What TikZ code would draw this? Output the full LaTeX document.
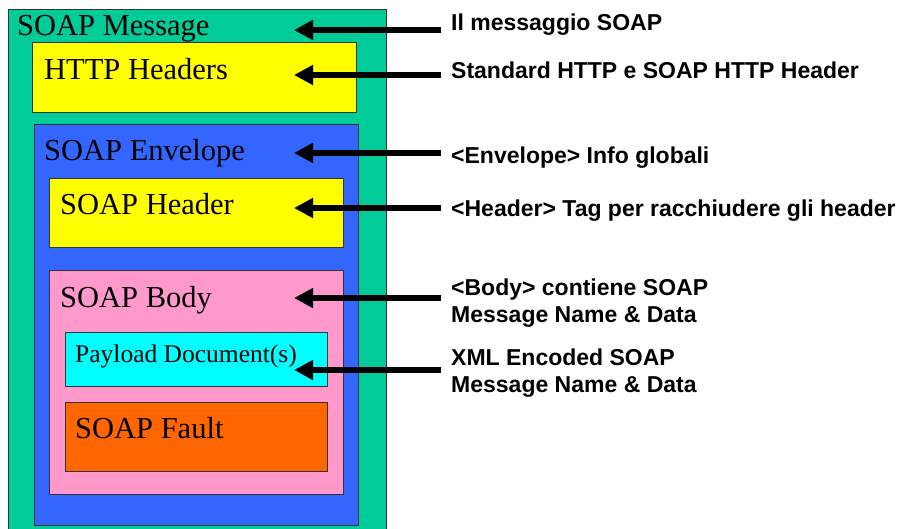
\documentclass[tikz,border=0pt]{standalone}
\usepackage{fontspec}
\setmainfont{Liberation Serif}
\newfontfamily\labfont{Liberation Sans}
\usetikzlibrary{arrows.meta}
\definecolor{msggreen}{HTML}{00CC99}
\definecolor{hdryellow}{HTML}{FFFF00}
\definecolor{envblue}{HTML}{3366FF}
\definecolor{bodypink}{HTML}{FF99CC}
\definecolor{paycyan}{HTML}{00FFFF}
\definecolor{faultorange}{HTML}{FF6600}
\definecolor{edgegrey}{HTML}{333333}
\tikzset{
  layer/.style={draw=edgegrey, line width=0.8pt, inner sep=0pt, anchor=north west},
  boxtext/.style={anchor=base west, inner sep=0pt, font=\fontsize{30.5}{34}\selectfont},
  smalltext/.style={anchor=base west, inner sep=0pt, font=\fontsize{25.5}{30}\selectfont},
  labtext/.style={anchor=base west, inner sep=0pt, align=left, font=\labfont\bfseries\fontsize{23}{27}\selectfont},
  pointer/.style={line width=6pt, -{Triangle[length=19pt,width=19pt]}}
}
\begin{document}
\begin{tikzpicture}[x=1pt,y=-1pt]
\useasboundingbox (0,0) rectangle (901,528);
\begin{scope}
\clip (0,0) rectangle (901,528);
% boxes
\node[layer, fill=msggreen, minimum width=378pt, minimum height=540pt] (msg) at (8,9) {};
\node[layer, fill=hdryellow, minimum width=324pt, minimum height=70pt] (http) at (32,42) {};
\node[layer, fill=envblue, minimum width=324pt, minimum height=401pt] (env) at (34,124) {};
\node[layer, fill=hdryellow, minimum width=294pt, minimum height=69pt] (shdr) at (49,178) {};
\node[layer, fill=bodypink, minimum width=294pt, minimum height=224pt] (body) at (49,270) {};
\node[layer, fill=paycyan, minimum width=262pt, minimum height=54pt] (pay) at (65,332) {};
\node[layer, fill=faultorange, minimum width=262pt, minimum height=69pt] (fault) at (65,402) {};
\end{scope}
% box titles
\node[boxtext] (tmsg) at (17,35) {SOAP Message};
\node[boxtext] (thttp) at (44,79) {HTTP Headers};
\node[boxtext] (tenv) at (44,160) {SOAP Envelope};
\node[boxtext] (tshdr) at (60,214) {SOAP Header};
\node[boxtext] (tbody) at (60,307) {SOAP Body};
\node[smalltext] (tpay) at (75,362) {Payload Document(s)};
\node[boxtext] (tfault) at (75,438) {SOAP Fault};
% labels
\node[labtext] (l1) at (451,30) {Il messaggio SOAP};
\node[labtext] (l2) at (451,78) {Standard HTTP e SOAP HTTP Header};
\node[labtext] (l3) at (451,163) {<Envelope> Info globali};
\node[labtext] (l4) at (451,216) {<Header> Tag per racchiudere gli header};
\node[labtext] (l5) at (451,322) {<Body> contiene SOAP\\Message Name \& Data};
\node[labtext] (l6) at (451,392) {XML Encoded SOAP\\Message Name \& Data};
% arrow ends
\coordinate (s1) at (441,30);  \coordinate (e1) at (294,30);
\coordinate (s2) at (441,75);  \coordinate (e2) at (294,75);
\coordinate (s3) at (441,153); \coordinate (e3) at (294,153);
\coordinate (s4) at (441,208); \coordinate (e4) at (294,208);
\coordinate (s5) at (441,298); \coordinate (e5) at (294,298);
\coordinate (s6) at (441,370); \coordinate (e6) at (294,370);
\foreach \i in {1,...,6} {\draw[pointer] (s\i) -- (e\i);}
\end{tikzpicture}
\end{document}
